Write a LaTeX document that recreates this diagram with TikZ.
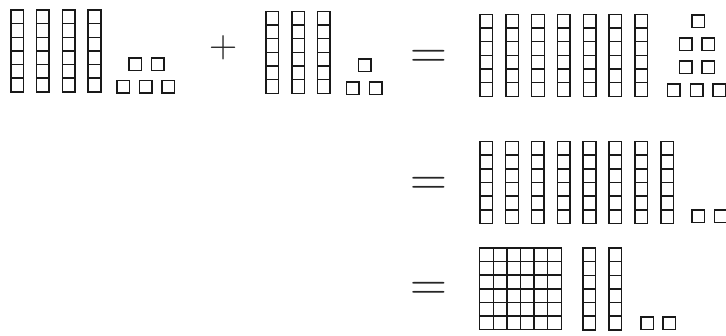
\documentclass[tikz,border=0pt]{standalone}
\usepackage{tikz}

\begin{document}
\begin{tikzpicture}[
        x=1pt,
        y=-1pt,
        blockline/.style={
            draw=black!90,
            line width=1.5pt
        },
        unitsq/.style={
            blockline,
            minimum size=12.5pt,
            inner sep=0pt,
            outer sep=0pt
        },
        plussign/.style={
            anchor=base,
            inner sep=0pt,
            text=black!85,
            font=\fontsize{39}{39}\selectfont
        },
        equalsign/.style={
            anchor=base,
            inner sep=0pt,
            text=black!85,
            font=\fontsize{51}{51}\selectfont
        },
        rod/.pic={
            \draw[blockline] (0,0) rectangle (12.6,81.9);
            \foreach \k in {1,...,5}
                \draw[blockline] (0,\k*13.65) -- (12.6,\k*13.65);
        },
        flat/.pic={
            \draw[blockline] (0,0) rectangle (81.6,81.6);
            \foreach \k in {1,...,5} {
                \draw[blockline] (0,\k*13.6) -- (81.6,\k*13.6);
                \draw[blockline] (\k*13.6,0) -- (\k*13.6,81.6);
            }
        }
    ]

    \useasboundingbox (0,0) rectangle (726,335);

    % Erste Zahl
    \foreach \k in {0,...,3}
        \pic (arod\k) at (10.75+\k*25.8,9.95) {rod};
    \node[unitsq] (aone1) at (135,64) {};
    \node[unitsq] (aone2) at (157.7,64) {};
    \node[unitsq] (aone3) at (123,86.7) {};
    \node[unitsq] (aone4) at (145.7,86.7) {};
    \node[unitsq] (aone5) at (168.3,86.7) {};

    \node[plussign] (plus) at (224,57.75) {+};

    % Zweite Zahl
    \foreach \k in {0,...,2}
        \pic (brod\k) at (266.1+\k*25.75,11.4) {rod};
    \node[unitsq] (bone1) at (364.7,65.3) {};
    \node[unitsq] (bone2) at (352.8,88.3) {};
    \node[unitsq] (bone3) at (375.8,88.3) {};

    % Summe, erste Zeile
    \node[equalsign] (eqone) at (428.4,68.95) {=};
    \foreach \k in {0,...,6}
        \pic (crod\k) at (480.1+\k*25.8,14.4) {rod};
    \node[unitsq] (cone1) at (698.3,21.3) {};
    \node[unitsq] (cone2) at (685.5,44.3) {};
    \node[unitsq] (cone3) at (708.3,44.3) {};
    \node[unitsq] (cone4) at (685.5,67) {};
    \node[unitsq] (cone5) at (708.3,67) {};
    \node[unitsq] (cone6) at (673.7,90.3) {};
    \node[unitsq] (cone7) at (696.5,90.3) {};
    \node[unitsq] (cone8) at (719,90.3) {};

    % Zweite Zeile
    \node[equalsign] (eqtwo) at (428.8,195.55) {=};
    \foreach \k in {0,...,7}
        \pic (drod\k) at (479.8+\k*25.85,141.5) {rod};
    \node[unitsq] (done1) at (698,216.3) {};
    \node[unitsq] (done2) at (720.5,216.3) {};

    % Dritte Zeile
    \node[equalsign] (eqthree) at (428.8,300.45) {=};
    \pic (eflat) at (479.65,247.95) {flat};
    \pic (erod1) at (583.1,247.95) {rod};
    \pic (erod2) at (608.8,247.95) {rod};
    \node[unitsq] (eone1) at (647,323) {};
    \node[unitsq] (eone2) at (669.3,323) {};

\end{tikzpicture}
\end{document}
